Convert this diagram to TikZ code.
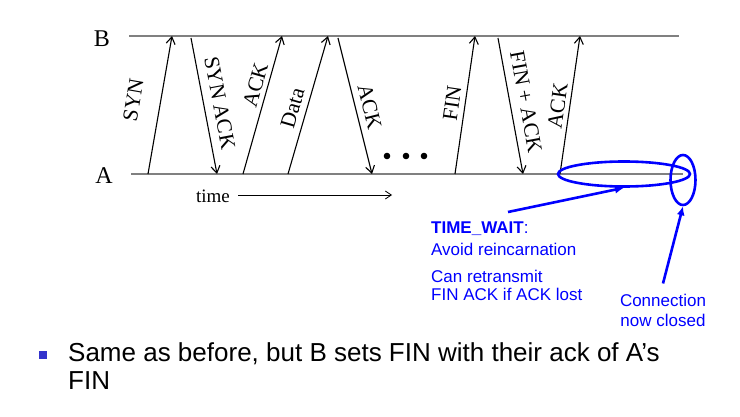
\documentclass[tikz,border=0pt]{standalone}
\usepackage{fontspec}
\setmainfont{Liberation Serif}
\newfontfamily\arialfont{Liberation Sans}
\usetikzlibrary{arrows.meta,shapes.geometric}
\definecolor{lineGray}{RGB}{128,128,128}
\definecolor{noteBlue}{RGB}{0,0,255}
\definecolor{bulletBlue}{RGB}{51,51,204}
\tikzset{
  timeline/.style={lineGray, line width=1.8pt},
  msg/.style={black, line width=1.1pt, -{Straight Barb[length=7pt,width=9pt]}},
  lbl/.style={sloped, font=\fontsize{21.5}{23}\selectfont},
  note/.style={noteBlue, font=\arialfont\fontsize{17}{19}\selectfont, inner sep=0pt, anchor=base west},
  ring/.style={draw=noteBlue, ellipse, line width=2.6pt, inner sep=0pt},
  pointer/.style={noteBlue, line width=2.6pt, -{Latex[length=9pt,width=8pt]}},
}
\begin{document}
\begin{tikzpicture}[x=1pt,y=1pt]
        \useasboundingbox (0,0) rectangle (740,416);
        %KOORDINAT
        \coordinate (Bl) at (129,380);
        \coordinate (Br) at (679,380);
        \coordinate (Al) at (131,242);
        \coordinate (Ar) at (683,242);
        \coordinate (a1) at (148,242); \coordinate (b1) at (172,380);
        \coordinate (b2) at (191,378); \coordinate (a2) at (217,242);
        \coordinate (a3) at (243,242); \coordinate (b3) at (282,380);
        \coordinate (a4) at (288,242); \coordinate (b4) at (328,380);
        \coordinate (b5) at (338,378); \coordinate (a5) at (372,242);
        \coordinate (a6) at (455,242); \coordinate (b6) at (475,380);
        \coordinate (b7) at (498,378); \coordinate (a7) at (523,242);
        \coordinate (a8) at (560,242); \coordinate (b8) at (580,380);
        %HOST LINES
        \draw[timeline] (Bl) -- (Br);
        \draw[timeline] (Al) -- (Ar);
        \node[font=\fontsize{24}{26}\selectfont, anchor=base] (hostB) at (102,369) {B};
        \node[font=\fontsize{24}{26}\selectfont, anchor=base] (hostA) at (104,233) {A};
        %MESSAGES
        \draw[msg] (a1) -- node[lbl, pos=0.5, above=16pt]{SYN} (b1);
        \draw[msg] (b2) -- node[lbl, pos=0.5, above=5pt]{SYN ACK} (a2);
        \draw[msg] (a3) -- node[lbl, pos=0.62, above=1pt]{ACK} (b3);
        \draw[msg] (a4) -- node[lbl, pos=0.45, above=3pt]{Data} (b4);
        \draw[msg] (b5) -- node[lbl, pos=0.53, above=3pt]{ACK} (a5);
        \draw[msg] (a6) -- node[lbl, pos=0.5, above=2pt]{FIN} (b6);
        \draw[msg] (b7) -- node[lbl, pos=0.49, above=5pt]{FIN + ACK} (a7);
        \draw[msg] (a8) -- node[lbl, pos=0.48, above=1pt]{ACK} (b8);
        \foreach \x in {387,406,424} \fill (\x,260) circle (3.3pt);
        %TIME
        \node[font=\fontsize{19}{21}\selectfont, anchor=base, inner sep=0pt] (time) at (213,214) {time};
        \coordinate (tend) at (392,221);
        \draw[line width=0.8pt, -{Straight Barb[length=6pt,width=8pt]}] (time.east |- tend) ++(8,0) -- (tend);
        %TIME_WAIT
        \node[ring, minimum width=132pt, minimum height=25pt] (wait) at (624,242) {};
        \node[ring, minimum width=25pt, minimum height=50pt] (closed) at (683,236) {};
        \node[note] (tw) at (431,183) {\textbf{TIME\_WAIT}:};
        \node[note] (avoid) at (431,161) {Avoid reincarnation};
        \node[note] (retx1) at (431,134) {Can retransmit};
        \node[note] (retx2) at (431,116) {FIN ACK if ACK lost};
        \node[note, anchor=base] (conn1) at (663,110) {Connection};
        \node[note, anchor=base] (conn2) at (663,90) {now closed};
        \coordinate (twtail) at (508,204);
        \draw[pointer] (twtail) -- (wait.south);
        \draw[pointer] (conn1.north) ++(0,10) -- (closed.south);
        %BULLET
        \node[fill=bulletBlue, minimum size=8pt, inner sep=0pt] (bul) at (43,61) {};
        \node[font=\arialfont\fontsize{26}{28}\selectfont, anchor=base west, inner sep=0pt] (same1) at (68,55) {Same as before, but B sets FIN with their ack of A’s};
        \node[font=\arialfont\fontsize{26}{28}\selectfont, anchor=base west, inner sep=0pt] (same2) at (68,27) {FIN};
    \end{tikzpicture}
\end{document}
